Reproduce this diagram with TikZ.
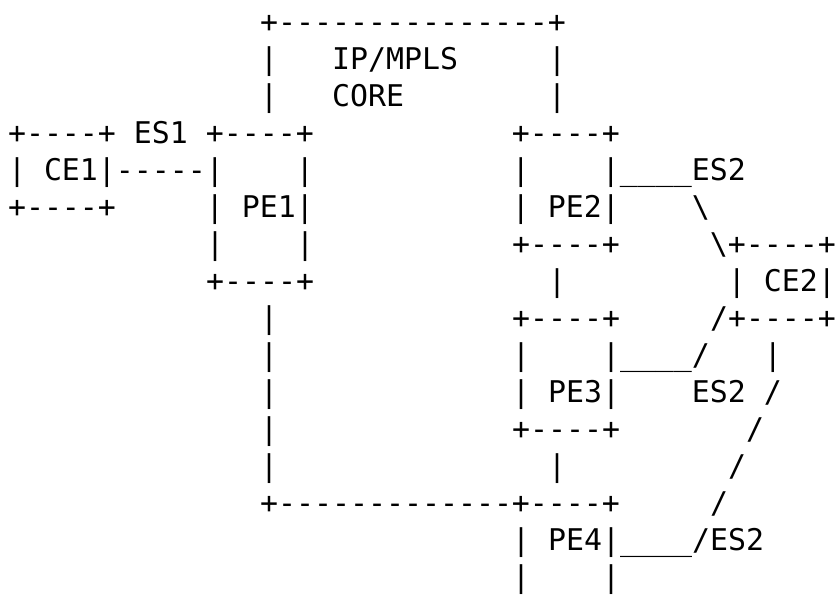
\documentclass[tikz,border=0pt]{standalone}
\usepackage{fontspec}
\setmonofont{DejaVu Sans Mono}
\usepackage{tikz}

\tikzset{asciirow/.style={anchor=base west, inner sep=0pt,
  font=\ttfamily\fontsize{22.42pt}{27.75pt}\selectfont}}
\newcommand{\rowat}[2]{\begingroup\obeyspaces\catcode`\_=12 \rowtext{#1}{#2}}
\newcommand{\rowtext}[3]{\node[asciirow] (row#1) at (#2,#1) {#3};\endgroup}

\begin{document}
\begin{tikzpicture}[x=13.5pt, y=-27.75pt]
  \useasboundingbox (-0.43,0.128) rectangle (46.01,16.344);
  \rowat{1}{14}{+---------------+}
  \rowat{2}{14}{|   IP/MPLS     |}
  \rowat{3}{14}{|   CORE        |}
  \rowat{4}{0}{+----+ ES1 +----+           +----+}
  \rowat{5}{0}{| CE1|-----|    |           |    |____ES2}
  \rowat{6}{0}{+----+     | PE1|           | PE2|    \textbackslash}
  \rowat{7}{11}{|    |           +----+     \textbackslash+----+}
  \rowat{8}{11}{+----+             |         | CE2|}
  \rowat{9}{14}{|             +----+     /+----+}
  \rowat{10}{14}{|             |    |____/   |}
  \rowat{11}{14}{|             | PE3|    ES2 /}
  \rowat{12}{14}{|             +----+       /}
  \rowat{13}{14}{|               |         /}
  \rowat{14}{14}{+-------------+----+     /}
  \rowat{15}{28}{| PE4|____/ES2}
  \rowat{16}{28}{|    |}
\end{tikzpicture}
\end{document}
